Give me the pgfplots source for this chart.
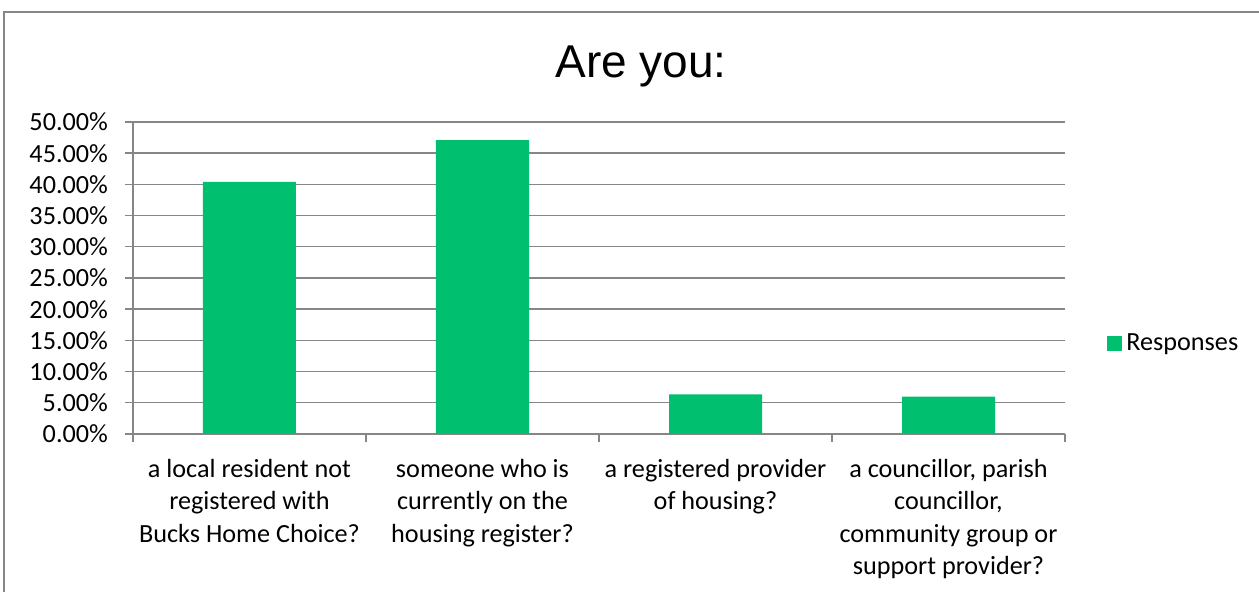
\documentclass[border=0pt]{standalone}
\usepackage{pgfplots}
\pgfplotsset{compat=1.18}
\usepackage{fontspec}
\setmainfont{Carlito}
\newfontfamily\arialf{Liberation Sans}
\definecolor{barg}{RGB}{0,191,111}
\definecolor{gridg}{RGB}{134,134,134}
\begin{document}
\begin{tikzpicture}[x=1pt,y=1pt]
\useasboundingbox (0,0) rectangle (629.5,296);
\draw[gridg, line width=0.8pt] (2,-2) -- (2,290) -- (632,290);
\node[font=\arialf\fontsize{23}{27}\selectfont, anchor=base] at (320.5,257) {Are you:};
\begin{axis}[
  at={(66.5pt,79pt)}, anchor=south west,
  scale only axis, width=466pt, height=156pt,
  xmin=-0.5, xmax=3.5, ymin=0, ymax=50,
  axis x line*=bottom, axis y line*=left,
  axis line style={gridg, line width=0.8pt},
  ytick={0,5,...,50},
  ymajorgrids, major grid style={gridg, line width=0.7pt},
  xtick={0,1,2,3},
  minor xtick={-0.5,0.5,1.5,2.5,3.5},
  major x tick style={draw=none},
  minor x tick style={gridg, line width=0.7pt},
  major y tick style={gridg, line width=0.7pt},
  major tick length=4pt, minor tick length=4pt,
  tick align=outside,
  /pgf/number format/assume math mode=true,
  yticklabel={\pgfmathprintnumber[fixed,fixed zerofill,precision=2]{\tick}\%},
  tick label style={font=\fontsize{13.1}{16.25}\selectfont},
  yticklabel style={xshift=-5pt},
  xticklabel style={align=center, yshift=-5pt},
  xticklabels={{a local resident not\\registered with\\Bucks Home Choice?},
               {someone who is\\currently on the\\housing register?},
               {a registered provider\\of housing?},
               {a councillor, parish\\councillor,\\community group or\\support provider?}},
  legend style={at={(1.045,0.29)}, anchor=west, draw=none, fill=none,
                font=\fontsize{13.1}{16.25}\selectfont, inner sep=0pt,
                nodes={inner xsep=2pt}},
  legend image code/.code={\fill[barg] (0pt,-3.75pt) rectangle (7.5pt,3.75pt);},
]
\addplot[ybar, bar width=46.5pt, fill=barg, draw=none]
  coordinates {(0,40.4) (1,47.1) (2,6.36) (3,5.98)};
\addlegendentry{Responses}
\end{axis}
\end{tikzpicture}
\end{document}
